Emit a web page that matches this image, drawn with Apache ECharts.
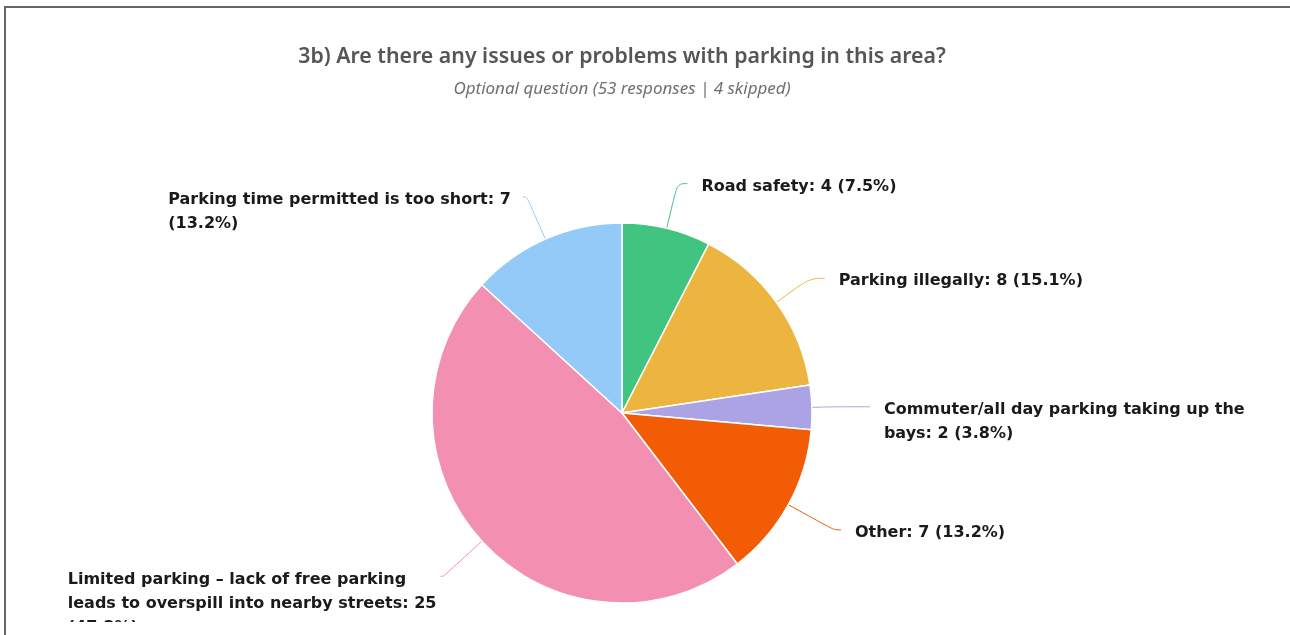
<!DOCTYPE html>
<html>
<head>
<meta charset="utf-8">
<title>Parking issues</title>
<script src="https://cdn.jsdelivr.net/npm/echarts@6/dist/echarts.min.js"></script>
<style>
  html, body { margin: 0; padding: 0; background: #fff; }
  #chart { width: 1290px; height: 635px; }
  .frame {
    position: absolute;
    left: 4px;
    top: 6px;
    right: 0;
    bottom: 0;
    border-top: 2px solid #666;
    border-left: 2px solid #666;
    pointer-events: none;
  }
  /* the source panel is cut off just above the window bottom */
  .cut {
    position: absolute;
    left: 6px;
    right: 0;
    top: 622px;
    bottom: 0;
    background: #fff;
  }
</style>
</head>
<body>
<div id="chart"></div>
<div class="frame"></div>
<div class="cut"></div>
<script>
// chart data
const categories = [
  'Road safety',
  'Parking illegally',
  'Commuter/all day parking taking up the bays',
  'Other',
  'Limited parking – lack of free parking leads to overspill into nearby streets',
  'Parking time permitted is too short'
]
const responses = [4, 8, 2, 7, 25, 7]
const colors = ['#40c480', '#ecb540', '#aca3e4', '#f25c05', '#f38fb1', '#93caf8']
// per slice connector: [length, length2, gap to text]
const lineLengths = [[46, 10, 14], [41, 15, 14], [20, 38, 14], [52, 7, 14], [52, 3, 4], [46, 4, 12]]

const labelFont = 'bold 16px "DejaVu Sans"'
const wrapWidth = 386

// break label text into lines no wider than wrapWidth
const measureCtx = document.createElement('canvas').getContext('2d')
measureCtx.font = labelFont
function wrapLabel(text) {
  const words = text.split(' ')
  let lines = []
  let line = ''
  words.forEach(w => {
    const test = line ? line + ' ' + w : w
    if (line && measureCtx.measureText(test).width > wrapWidth) {
      lines.push(line)
      line = w
    } else {
      line = test
    }
  })
  lines.push(line)
  return lines.join('\n')
}

const chart = echarts.init(document.getElementById('chart'))

const pieData = categories.map((name, i) => ({
  name: name,
  value: responses[i],
  itemStyle: { color: colors[i] },
  labelLine: {
    length: lineLengths[i][0],
    length2: lineLengths[i][1],
    lineStyle: { color: colors[i] }
  },
  label: { distanceToLabelLine: lineLengths[i][2] }
}))

chart.setOption({
  animation: false,
  title: {
    text: '3b) Are there any issues or problems with parking in this area?',
    subtext: 'Optional question (53 responses | 4 skipped)',
    left: 617,
    top: 41,
    textAlign: 'center',
    itemGap: 14,
    textStyle: {
      fontFamily: 'Noto Sans',
      fontWeight: 600,
      fontSize: 21.3,
      color: '#555'
    },
    subtextStyle: {
      fontFamily: 'Noto Sans',
      fontStyle: 'italic',
      fontSize: 17,
      color: '#707070'
    }
  },
  series: [
    {
      type: 'pie',
      center: [622, 413],
      radius: 190,
      startAngle: 90,
      clockwise: true,
      avoidLabelOverlap: false,
      percentPrecision: 1,
      itemStyle: {
        borderColor: '#fff',
        borderWidth: 1.5
      },
      label: {
        formatter: p => '{t|' + wrapLabel(p.name + ': ' + p.value + ' (' + p.percent + '%)') + '}',
        rich: {
          t: {
            align: 'left',
            fontFamily: 'DejaVu Sans',
            fontWeight: 'bold',
            fontSize: 16,
            lineHeight: 24,
            color: '#1a1a1a'
          }
        }
      },
      labelLine: {
        show: true,
        smooth: 0.4,
        lineStyle: { width: 1 }
      },
      labelLayout: () => ({ verticalAlign: 'top', dy: -9 }),
      data: pieData
    }
  ]
})
</script>
</body>
</html>
